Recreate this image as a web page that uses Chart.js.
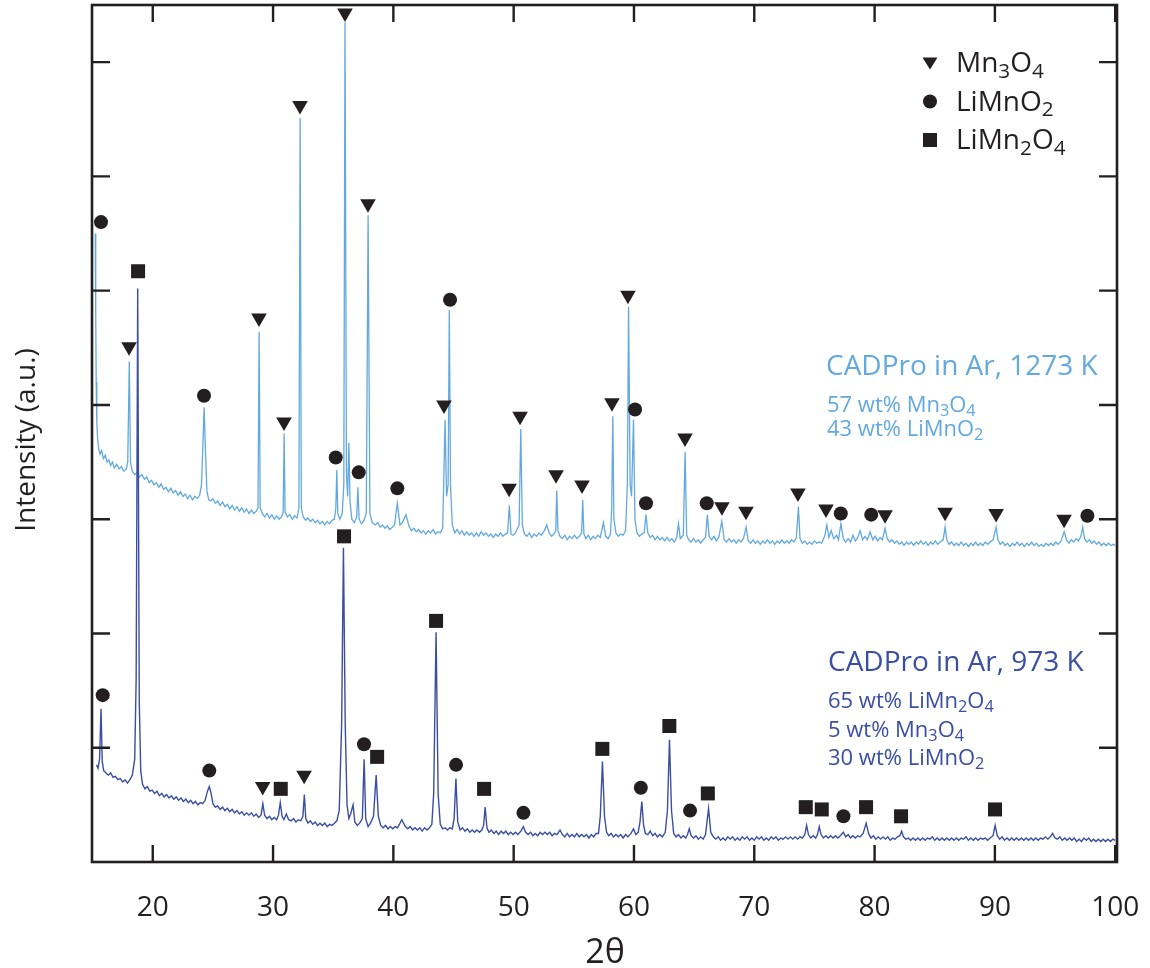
<!DOCTYPE html>
<html>
<head>
<meta charset="utf-8">
<script src="https://cdn.jsdelivr.net/npm/chart.js@4.4.0/dist/chart.umd.min.js"></script>
<style>
  html, body { margin: 0; padding: 0; background: #fff; }
</style>
</head>
<body>
<canvas id="xrd" width="1150" height="968"></canvas>
<script>
// XRD patterns, CADPro in Ar at 1273 K (upper) and 973 K (lower)

const xTicks = [20, 30, 40, 50, 60, 70, 80, 90, 100];
const yTicks = [1, 2, 3, 4, 5, 6, 7];

// upper trace, 1273 K : [2theta, intensity]
const trace1273 = [[15.22,5.5],[15.26,4.8],[15.3,4.2],[15.35,3.85],[15.42,3.7],[15.5,3.62],[15.62,3.57],[15.75,3.6],[15.9,3.53],[16.05,3.56],[16.2,3.5],[16.35,3.52],[16.5,3.47],[16.65,3.5],[16.8,3.45],[17.0,3.48],[17.2,3.44],[17.4,3.46],[17.6,3.42],[17.8,3.44],[17.92,3.5],[18.05,4.38],[18.15,3.5],[18.3,3.42],[18.5,3.39],[18.7,3.41],[18.9,3.37],[19.1,3.39],[19.3,3.35],[19.5,3.37],[19.7,3.32],[19.9,3.34],[20.1,3.3],[20.3,3.32],[20.5,3.28],[20.7,3.31],[20.9,3.26],[21.1,3.28],[21.3,3.24],[21.5,3.27],[21.7,3.23],[21.9,3.25],[22.1,3.21],[22.3,3.24],[22.5,3.2],[22.7,3.22],[22.9,3.18],[23.1,3.21],[23.3,3.17],[23.5,3.2],[23.7,3.18],[23.9,3.21],[24.05,3.3],[24.15,3.6],[24.27,3.98],[24.38,3.6],[24.5,3.25],[24.65,3.17],[24.85,3.16],[25.0,3.18],[25.2,3.14],[25.4,3.16],[25.6,3.12],[25.8,3.15],[26.0,3.11],[26.2,3.13],[26.4,3.09],[26.6,3.12],[26.8,3.08],[27.0,3.11],[27.2,3.07],[27.4,3.1],[27.6,3.06],[27.8,3.09],[28.0,3.05],[28.2,3.08],[28.4,3.05],[28.6,3.07],[28.75,3.1],[28.84,4.64],[28.93,3.1],[29.1,3.05],[29.3,3.02],[29.5,3.05],[29.7,3.01],[29.9,3.04],[30.1,3.0],[30.3,3.03],[30.5,3.0],[30.7,3.02],[30.84,3.06],[30.92,3.75],[31.0,3.06],[31.2,3.02],[31.4,3.04],[31.6,3.0],[31.8,3.03],[32.0,3.01],[32.15,3.1],[32.25,6.51],[32.35,3.1],[32.5,3.02],[32.7,2.99],[32.9,3.01],[33.1,2.98],[33.3,3.0],[33.5,2.97],[33.7,2.99],[33.9,2.96],[34.1,2.98],[34.3,2.95],[34.5,2.98],[34.7,2.96],[34.9,2.99],[35.1,3.0],[35.22,3.1],[35.3,3.43],[35.38,3.05],[35.55,3.0],[35.75,3.05],[35.88,3.3],[35.98,7.35],[36.1,3.4],[36.2,3.2],[36.3,3.67],[36.4,3.15],[36.55,3.0],[36.75,2.97],[36.95,3.02],[37.05,3.28],[37.15,3.0],[37.35,2.96],[37.55,2.99],[37.75,3.05],[37.9,5.66],[38.05,3.05],[38.25,2.97],[38.5,2.95],[38.7,2.97],[38.9,2.93],[39.1,2.95],[39.3,2.92],[39.5,2.94],[39.7,2.91],[39.9,2.93],[40.1,2.95],[40.33,3.14],[40.55,2.95],[40.75,2.97],[41.05,3.04],[41.3,2.94],[41.5,2.9],[41.7,2.92],[41.9,2.89],[42.1,2.91],[42.3,2.88],[42.5,2.9],[42.7,2.87],[42.9,2.9],[43.1,2.88],[43.3,2.91],[43.5,2.87],[43.7,2.89],[43.9,2.88],[44.1,2.92],[44.3,3.87],[44.42,3.2],[44.55,3.3],[44.65,4.83],[44.75,3.3],[44.9,2.95],[45.1,2.88],[45.3,2.91],[45.5,2.87],[45.7,2.9],[45.9,2.86],[46.1,2.89],[46.3,2.86],[46.5,2.88],[46.7,2.85],[46.9,2.88],[47.1,2.85],[47.3,2.89],[47.5,2.86],[47.7,2.88],[47.9,2.85],[48.1,2.87],[48.3,2.84],[48.5,2.87],[48.7,2.85],[48.9,2.88],[49.1,2.85],[49.3,2.87],[49.5,2.88],[49.64,3.12],[49.78,2.87],[49.95,2.86],[50.15,2.88],[50.45,2.95],[50.59,3.79],[50.72,2.95],[50.9,2.87],[51.1,2.85],[51.3,2.88],[51.5,2.84],[51.7,2.87],[51.9,2.85],[52.1,2.88],[52.3,2.86],[52.55,2.9],[52.75,2.95],[52.95,2.88],[53.15,2.85],[53.35,2.87],[53.5,2.9],[53.58,3.25],[53.68,2.9],[53.85,2.85],[54.05,2.83],[54.25,2.86],[54.45,2.82],[54.65,2.85],[54.85,2.83],[55.05,2.86],[55.25,2.83],[55.45,2.85],[55.65,2.88],[55.74,3.17],[55.84,2.87],[56.0,2.83],[56.2,2.86],[56.4,2.82],[56.6,2.85],[56.8,2.83],[57.0,2.86],[57.2,2.84],[57.46,2.97],[57.65,2.85],[57.85,2.83],[58.05,2.87],[58.15,3.1],[58.24,3.9],[58.33,3.0],[58.5,2.88],[58.7,2.85],[58.9,2.87],[59.1,2.86],[59.3,2.9],[59.45,3.3],[59.55,4.86],[59.68,3.3],[59.8,3.2],[59.96,3.87],[60.08,3.0],[60.25,2.88],[60.45,2.85],[60.65,2.87],[60.85,2.88],[61.0,3.04],[61.15,2.88],[61.35,2.84],[61.55,2.86],[61.75,2.82],[61.95,2.85],[62.15,2.82],[62.35,2.84],[62.55,2.81],[62.75,2.84],[62.95,2.81],[63.15,2.83],[63.35,2.8],[63.55,2.84],[63.7,2.96],[63.85,2.83],[64.1,2.86],[64.25,3.59],[64.38,2.86],[64.55,2.82],[64.75,2.8],[64.95,2.83],[65.15,2.8],[65.35,2.82],[65.55,2.79],[65.75,2.82],[65.95,2.84],[66.1,3.04],[66.25,2.85],[66.45,2.82],[66.65,2.85],[66.85,2.81],[67.05,2.84],[67.3,2.98],[67.5,2.82],[67.7,2.8],[67.9,2.83],[68.1,2.8],[68.3,2.82],[68.5,2.79],[68.7,2.82],[68.9,2.8],[69.1,2.83],[69.32,2.93],[69.5,2.81],[69.7,2.79],[69.9,2.82],[70.1,2.79],[70.3,2.81],[70.5,2.78],[70.7,2.81],[70.9,2.79],[71.1,2.82],[71.3,2.79],[71.5,2.81],[71.7,2.78],[71.9,2.81],[72.1,2.79],[72.3,2.82],[72.5,2.79],[72.7,2.81],[72.9,2.79],[73.1,2.82],[73.3,2.8],[73.5,2.84],[73.67,3.11],[73.8,2.83],[74.0,2.79],[74.2,2.81],[74.4,2.78],[74.6,2.8],[74.8,2.78],[75.0,2.81],[75.2,2.79],[75.4,2.8],[75.6,2.79],[75.85,2.85],[76.03,2.95],[76.2,2.84],[76.4,2.9],[76.6,2.83],[76.85,2.86],[77.0,2.82],[77.2,2.96],[77.4,2.83],[77.6,2.8],[77.8,2.83],[78.0,2.8],[78.2,2.86],[78.4,2.81],[78.6,2.84],[78.8,2.9],[79.0,2.82],[79.2,2.85],[79.4,2.82],[79.63,2.89],[79.85,2.82],[80.05,2.85],[80.25,2.81],[80.45,2.84],[80.65,2.82],[80.87,2.92],[81.05,2.83],[81.25,2.8],[81.45,2.82],[81.65,2.79],[81.85,2.81],[82.05,2.78],[82.25,2.8],[82.45,2.77],[82.65,2.8],[82.85,2.78],[83.05,2.8],[83.25,2.77],[83.45,2.8],[83.65,2.78],[83.85,2.81],[84.05,2.78],[84.25,2.8],[84.45,2.77],[84.65,2.8],[84.85,2.78],[85.05,2.81],[85.25,2.78],[85.45,2.8],[85.7,2.82],[85.86,2.93],[86.0,2.82],[86.2,2.78],[86.4,2.8],[86.6,2.77],[86.8,2.79],[87.0,2.77],[87.2,2.8],[87.4,2.77],[87.6,2.79],[87.8,2.76],[88.0,2.79],[88.2,2.77],[88.4,2.8],[88.6,2.77],[88.8,2.79],[89.0,2.77],[89.2,2.8],[89.4,2.78],[89.6,2.8],[89.85,2.82],[90.1,2.93],[90.25,2.82],[90.45,2.78],[90.65,2.8],[90.85,2.77],[91.05,2.79],[91.25,2.76],[91.45,2.79],[91.65,2.77],[91.85,2.8],[92.05,2.77],[92.25,2.79],[92.45,2.76],[92.65,2.79],[92.85,2.77],[93.05,2.8],[93.25,2.77],[93.45,2.79],[93.65,2.76],[93.85,2.78],[94.05,2.76],[94.25,2.79],[94.45,2.77],[94.65,2.79],[94.85,2.77],[95.05,2.8],[95.25,2.78],[95.5,2.81],[95.76,2.89],[95.95,2.82],[96.15,2.79],[96.35,2.82],[96.55,2.8],[96.75,2.83],[96.95,2.81],[97.15,2.85],[97.3,2.93],[97.45,2.83],[97.65,2.8],[97.85,2.82],[98.05,2.79],[98.25,2.81],[98.45,2.78],[98.65,2.8],[98.85,2.77],[99.05,2.79],[99.25,2.77],[99.45,2.79],[99.65,2.77],[99.85,2.78],[100,2.77]];

// lower trace, 973 K
const trace973 = [[15.33,0.85],[15.45,0.82],[15.58,0.9],[15.7,1.34],[15.8,0.88],[15.92,0.8],[16.1,0.78],[16.3,0.76],[16.5,0.78],[16.7,0.74],[16.9,0.75],[17.1,0.72],[17.3,0.73],[17.5,0.7],[17.7,0.72],[17.9,0.69],[18.1,0.72],[18.3,0.76],[18.5,0.9],[18.62,1.6],[18.75,5.02],[18.88,1.4],[19.0,0.8],[19.15,0.68],[19.35,0.64],[19.55,0.66],[19.75,0.62],[19.95,0.63],[20.15,0.6],[20.35,0.62],[20.55,0.58],[20.75,0.6],[20.95,0.57],[21.15,0.59],[21.35,0.56],[21.55,0.58],[21.75,0.55],[21.95,0.57],[22.15,0.54],[22.35,0.56],[22.55,0.53],[22.75,0.55],[22.95,0.52],[23.15,0.54],[23.35,0.51],[23.55,0.53],[23.75,0.5],[23.95,0.52],[24.15,0.51],[24.35,0.54],[24.55,0.62],[24.7,0.66],[24.85,0.6],[25.0,0.51],[25.2,0.48],[25.4,0.49],[25.6,0.46],[25.8,0.48],[26.0,0.45],[26.2,0.47],[26.4,0.44],[26.6,0.46],[26.8,0.43],[27.0,0.45],[27.2,0.42],[27.4,0.44],[27.6,0.41],[27.8,0.43],[28.0,0.41],[28.2,0.43],[28.4,0.4],[28.6,0.42],[28.8,0.39],[29.0,0.41],[29.15,0.51],[29.3,0.41],[29.5,0.38],[29.7,0.4],[29.9,0.37],[30.1,0.39],[30.3,0.37],[30.45,0.41],[30.6,0.52],[30.75,0.4],[30.9,0.37],[31.1,0.42],[31.3,0.37],[31.5,0.36],[31.7,0.38],[31.9,0.35],[32.1,0.37],[32.3,0.36],[32.48,0.4],[32.6,0.59],[32.72,0.38],[32.9,0.34],[33.1,0.36],[33.3,0.33],[33.5,0.35],[33.7,0.32],[33.9,0.34],[34.1,0.32],[34.3,0.34],[34.5,0.31],[34.7,0.33],[34.9,0.32],[35.1,0.34],[35.3,0.36],[35.5,0.45],[35.7,1.2],[35.85,2.75],[36.0,1.2],[36.15,0.5],[36.3,0.38],[36.45,0.42],[36.65,0.5],[36.8,0.35],[37.0,0.32],[37.2,0.34],[37.42,0.38],[37.57,0.9],[37.7,0.38],[37.9,0.31],[38.1,0.34],[38.35,0.4],[38.57,0.76],[38.75,0.4],[38.95,0.32],[39.15,0.3],[39.35,0.32],[39.55,0.29],[39.75,0.31],[39.95,0.29],[40.15,0.31],[40.35,0.3],[40.7,0.37],[41.0,0.31],[41.2,0.29],[41.4,0.31],[41.6,0.28],[41.8,0.3],[42.0,0.28],[42.2,0.3],[42.4,0.27],[42.6,0.3],[42.8,0.28],[43.0,0.3],[43.2,0.33],[43.35,0.6],[43.55,2.01],[43.72,0.6],[43.9,0.33],[44.1,0.29],[44.3,0.3],[44.5,0.28],[44.7,0.3],[44.9,0.29],[45.05,0.38],[45.2,0.73],[45.35,0.35],[45.55,0.28],[45.75,0.3],[45.95,0.27],[46.15,0.29],[46.35,0.26],[46.55,0.28],[46.75,0.26],[46.95,0.28],[47.15,0.26],[47.35,0.28],[47.5,0.32],[47.63,0.48],[47.78,0.3],[47.95,0.26],[48.15,0.28],[48.35,0.25],[48.55,0.27],[48.75,0.24],[48.95,0.27],[49.15,0.25],[49.35,0.27],[49.55,0.24],[49.75,0.26],[49.95,0.24],[50.15,0.26],[50.35,0.24],[50.6,0.27],[50.8,0.31],[51.0,0.26],[51.2,0.24],[51.4,0.26],[51.6,0.23],[51.8,0.25],[52.0,0.23],[52.2,0.26],[52.4,0.24],[52.6,0.26],[52.8,0.24],[53.0,0.26],[53.2,0.23],[53.4,0.25],[53.6,0.24],[53.85,0.28],[54.05,0.24],[54.25,0.22],[54.45,0.25],[54.65,0.22],[54.85,0.24],[55.05,0.22],[55.25,0.25],[55.45,0.22],[55.65,0.24],[55.85,0.22],[56.05,0.24],[56.25,0.21],[56.45,0.24],[56.65,0.22],[56.85,0.25],[57.05,0.25],[57.2,0.4],[57.38,0.88],[57.55,0.4],[57.72,0.26],[57.9,0.23],[58.1,0.25],[58.3,0.22],[58.5,0.24],[58.7,0.22],[58.9,0.24],[59.1,0.21],[59.3,0.24],[59.5,0.22],[59.75,0.25],[59.96,0.29],[60.15,0.24],[60.35,0.26],[60.5,0.35],[60.65,0.53],[60.8,0.32],[60.95,0.25],[61.15,0.24],[61.35,0.27],[61.55,0.23],[61.75,0.25],[61.95,0.22],[62.15,0.24],[62.35,0.22],[62.6,0.26],[62.78,0.45],[62.95,1.07],[63.12,0.45],[63.3,0.25],[63.5,0.22],[63.7,0.24],[63.9,0.21],[64.1,0.23],[64.3,0.21],[64.45,0.24],[64.6,0.29],[64.75,0.23],[64.95,0.21],[65.15,0.23],[65.35,0.2],[65.55,0.22],[65.75,0.2],[65.95,0.24],[66.2,0.47],[66.38,0.26],[66.6,0.22],[66.8,0.2],[67.0,0.22],[67.2,0.19],[67.4,0.21],[67.6,0.19],[67.8,0.22],[68.0,0.2],[68.2,0.22],[68.4,0.19],[68.6,0.21],[68.8,0.19],[69.0,0.22],[69.2,0.2],[69.4,0.22],[69.6,0.19],[69.8,0.21],[70.0,0.19],[70.2,0.22],[70.4,0.2],[70.6,0.22],[70.8,0.19],[71.0,0.21],[71.2,0.19],[71.4,0.22],[71.6,0.2],[71.8,0.22],[72.0,0.19],[72.2,0.21],[72.4,0.2],[72.6,0.22],[72.8,0.2],[73.0,0.22],[73.2,0.2],[73.4,0.22],[73.6,0.2],[73.8,0.22],[74.0,0.21],[74.2,0.24],[74.35,0.32],[74.5,0.24],[74.7,0.21],[74.9,0.23],[75.1,0.21],[75.25,0.24],[75.4,0.31],[75.55,0.24],[75.75,0.21],[75.95,0.23],[76.15,0.21],[76.35,0.23],[76.55,0.21],[76.75,0.23],[76.95,0.21],[77.15,0.23],[77.4,0.26],[77.6,0.22],[77.8,0.24],[78.0,0.21],[78.2,0.23],[78.4,0.21],[78.6,0.23],[78.8,0.22],[79.05,0.25],[79.3,0.34],[79.5,0.25],[79.7,0.21],[79.9,0.23],[80.1,0.2],[80.3,0.22],[80.5,0.2],[80.7,0.22],[80.9,0.2],[81.1,0.22],[81.3,0.19],[81.5,0.21],[81.7,0.2],[81.9,0.22],[82.1,0.23],[82.25,0.27],[82.4,0.22],[82.6,0.2],[82.8,0.21],[83.0,0.19],[83.2,0.21],[83.4,0.19],[83.6,0.21],[83.8,0.19],[84.0,0.21],[84.2,0.19],[84.4,0.21],[84.6,0.2],[84.8,0.22],[85.0,0.19],[85.2,0.21],[85.4,0.19],[85.6,0.21],[85.8,0.19],[86.0,0.21],[86.2,0.19],[86.4,0.21],[86.6,0.19],[86.8,0.21],[87.0,0.19],[87.2,0.21],[87.4,0.2],[87.6,0.22],[87.8,0.19],[88.0,0.21],[88.2,0.19],[88.4,0.21],[88.6,0.19],[88.8,0.21],[89.0,0.2],[89.2,0.21],[89.4,0.19],[89.6,0.21],[89.85,0.23],[90.02,0.32],[90.2,0.23],[90.4,0.2],[90.6,0.22],[90.8,0.19],[91.0,0.21],[91.2,0.19],[91.4,0.21],[91.6,0.19],[91.8,0.21],[92.0,0.19],[92.2,0.21],[92.4,0.19],[92.6,0.21],[92.8,0.19],[93.0,0.21],[93.2,0.19],[93.4,0.21],[93.6,0.19],[93.8,0.21],[94.0,0.2],[94.2,0.22],[94.4,0.2],[94.6,0.22],[94.8,0.25],[95.0,0.21],[95.2,0.2],[95.4,0.22],[95.6,0.19],[95.8,0.21],[96.0,0.19],[96.2,0.21],[96.4,0.19],[96.6,0.21],[96.8,0.18],[97.0,0.2],[97.2,0.18],[97.4,0.21],[97.6,0.19],[97.8,0.21],[98.0,0.18],[98.2,0.2],[98.4,0.18],[98.6,0.2],[98.8,0.18],[99.0,0.2],[99.2,0.18],[99.4,0.2],[99.6,0.18],[99.8,0.2],[100,0.19]];

// phase markers above the peaks
const mn3o4Marks = [[18.03,4.51],[28.83,4.76],[30.91,3.85],[32.24,6.62],[35.98,7.43],[37.89,5.76],[44.21,4.0],[49.62,3.27],[50.53,3.9],[53.52,3.39],[55.68,3.3],[58.17,4.02],[59.5,4.96],[64.24,3.71],[67.31,3.11],[69.31,3.07],[73.63,3.23],[75.96,3.09],[80.87,3.04],[85.86,3.06],[90.1,3.05],[95.75,3.0],
  [29.14,0.66],[32.58,0.76]];
const limno2Marks = [[15.7,5.6],[24.26,4.08],[35.21,3.54],[37.12,3.41],[40.33,3.27],[44.71,4.92],[60.09,3.96],[61.0,3.14],[66.05,3.14],[77.19,3.05],[79.72,3.04],[97.69,3.03],
  [15.84,1.46],[24.7,0.8],[37.56,1.03],[45.21,0.85],[50.81,0.43],[60.57,0.65],[64.66,0.45],[77.41,0.4]];
const limn2o4Marks = [[18.78,5.17],[30.64,0.64],[35.9,2.85],[38.65,0.92],[43.55,2.11],[47.54,0.64],[57.37,0.99],[62.94,1.19],[66.14,0.6],[74.28,0.48],[75.61,0.46],[79.29,0.48],[82.2,0.4],[90.01,0.46]];

// text ("_n" = subscript digit)
const legendItems = [['Mn_3O_4', 'triangle'], ['LiMnO_2', 'circle'], ['LiMn_2O_4', 'rect']];
const label1273 = ['CADPro in Ar, 1273 K', '57 wt% Mn_3O_4', '43 wt% LiMnO_2'];
const label973 = ['CADPro in Ar, 973 K', '65 wt% LiMn_2O_4', '5 wt% Mn_3O_4', '30 wt% LiMnO_2'];

const ink = '#231f20';
const light = '#62a9df';
const dark = '#3a4ea3';
const FONT = '"Open Sans", "Noto Sans", sans-serif';

const pts = arr => arr.map(p => ({ x: p[0], y: p[1] }));

function splitSub(str) {
  const parts = [];
  str.split(/(_\d)/).forEach(s => {
    if (!s) return;
    if (s[0] === '_') parts.push([s.slice(1), true]);
    else parts.push([s, false]);
  });
  return parts;
}

function drawRich(ctx, str, x, y, size, color) {
  ctx.fillStyle = color;
  ctx.textAlign = 'left';
  ctx.textBaseline = 'alphabetic';
  splitSub(str).forEach(([t, sub]) => {
    const fs = sub ? size * 0.74 : size;
    ctx.font = fs + 'px ' + FONT;
    ctx.fillText(t, x, sub ? y + size * 0.2 : y);
    x += ctx.measureText(t).width;
  });
}

function shape(ctx, kind, x, y) {
  ctx.beginPath();
  if (kind === 'triangle') {
    ctx.moveTo(x - 7.5, y - 5.5);
    ctx.lineTo(x + 7.5, y - 5.5);
    ctx.lineTo(x, y + 6.5);
    ctx.closePath();
  } else if (kind === 'circle') {
    ctx.arc(x, y, 7, 0, Math.PI * 2);
  } else {
    ctx.rect(x - 7, y - 7, 14, 14);
  }
  ctx.fill();
}

const decorations = {
  id: 'decorations',
  afterDraw(chart) {
    const ctx = chart.ctx;
    const a = chart.chartArea;
    const xs = chart.scales.x, ys = chart.scales.y;
    ctx.save();

    // frame and inward ticks
    ctx.strokeStyle = ink;
    ctx.lineWidth = 2.6;
    ctx.strokeRect(a.left, a.top, a.right - a.left, a.bottom - a.top);
    ctx.lineWidth = 2.4;
    ctx.beginPath();
    xTicks.forEach(v => {
      const px = xs.getPixelForValue(v);
      ctx.moveTo(px, a.bottom); ctx.lineTo(px, a.bottom - 17);
      ctx.moveTo(px, a.top); ctx.lineTo(px, a.top + 17);
    });
    yTicks.forEach(v => {
      const py = ys.getPixelForValue(v);
      ctx.moveTo(a.left, py); ctx.lineTo(a.left + 18, py);
      ctx.moveTo(a.right, py); ctx.lineTo(a.right - 18, py);
    });
    ctx.stroke();

    // axis titles
    ctx.fillStyle = ink;
    ctx.font = '34px ' + FONT;
    ctx.textAlign = 'center';
    ctx.textBaseline = 'alphabetic';
    ctx.fillText('2θ', (a.left + a.right) / 2 + 0.5, 963);
    ctx.save();
    ctx.translate(35, 440);
    ctx.rotate(-Math.PI / 2);
    ctx.font = '28px ' + FONT;
    ctx.fillText('Intensity (a.u.)', 0, 0);
    ctx.restore();

    // legend
    legendItems.forEach(([txt, kind], i) => {
      const y = 63 + i * 38.5;
      ctx.fillStyle = ink;
      shape(ctx, kind, 930, y);
      drawRich(ctx, txt, 956, y + 9, 28, ink);
    });

    // sample labels
    drawRich(ctx, label1273[0], 826, 375, 28, light);
    drawRich(ctx, label1273[1], 827, 412, 22, light);
    drawRich(ctx, label1273[2], 827, 436, 22, light);
    drawRich(ctx, label973[0], 828, 671, 28, dark);
    drawRich(ctx, label973[1], 828, 708, 22, dark);
    drawRich(ctx, label973[2], 828, 737, 22, dark);
    drawRich(ctx, label973[3], 828, 765, 22, dark);

    ctx.restore();
  }
};

new Chart(document.getElementById('xrd'), {
  type: 'scatter',
  data: {
    datasets: [
      { label: 'Mn3O4', data: pts(mn3o4Marks), pointStyle: 'triangle', pointRotation: 180, pointRadius: 9,
        pointBackgroundColor: ink, pointBorderWidth: 0, order: 0, clip: false },
      { label: 'LiMnO2', data: pts(limno2Marks), pointStyle: 'circle', pointRadius: 7,
        pointBackgroundColor: ink, pointBorderWidth: 0, order: 0, clip: false },
      { label: 'LiMn2O4', data: pts(limn2o4Marks), pointStyle: 'rect', pointRadius: 9.9,
        pointBackgroundColor: ink, pointBorderWidth: 0, order: 0, clip: false },
      { label: '973 K', data: pts(trace973), showLine: true, pointRadius: 0,
        borderColor: dark, borderWidth: 1.4, order: 1 },
      { label: '1273 K', data: pts(trace1273), showLine: true, pointRadius: 0,
        borderColor: light, borderWidth: 1.3, order: 2 }
    ]
  },
  options: {
    responsive: false,
    animation: false,
    events: [],
    layout: { autoPadding: false, padding: { left: 92, right: 33, top: 5, bottom: 0 } },
    plugins: { legend: { display: false }, tooltip: { enabled: false } },
    scales: {
      x: {
        type: 'linear',
        min: 14.95,
        max: 100.15,
        grid: { display: false },
        border: { display: false },
        afterBuildTicks: scale => { scale.ticks = xTicks.map(v => ({ value: v })); },
        afterFit: scale => {
          scale.height = 106;
          scale.paddingLeft = 0;
          scale.paddingRight = 0;
        },
        ticks: {
          color: ink,
          padding: 21,
          maxRotation: 0,
          font: { family: FONT, size: 28 }
        }
      },
      y: {
        display: false,
        min: 0,
        max: 7.5
      }
    }
  },
  plugins: [decorations]
});
</script>
</body>
</html>
